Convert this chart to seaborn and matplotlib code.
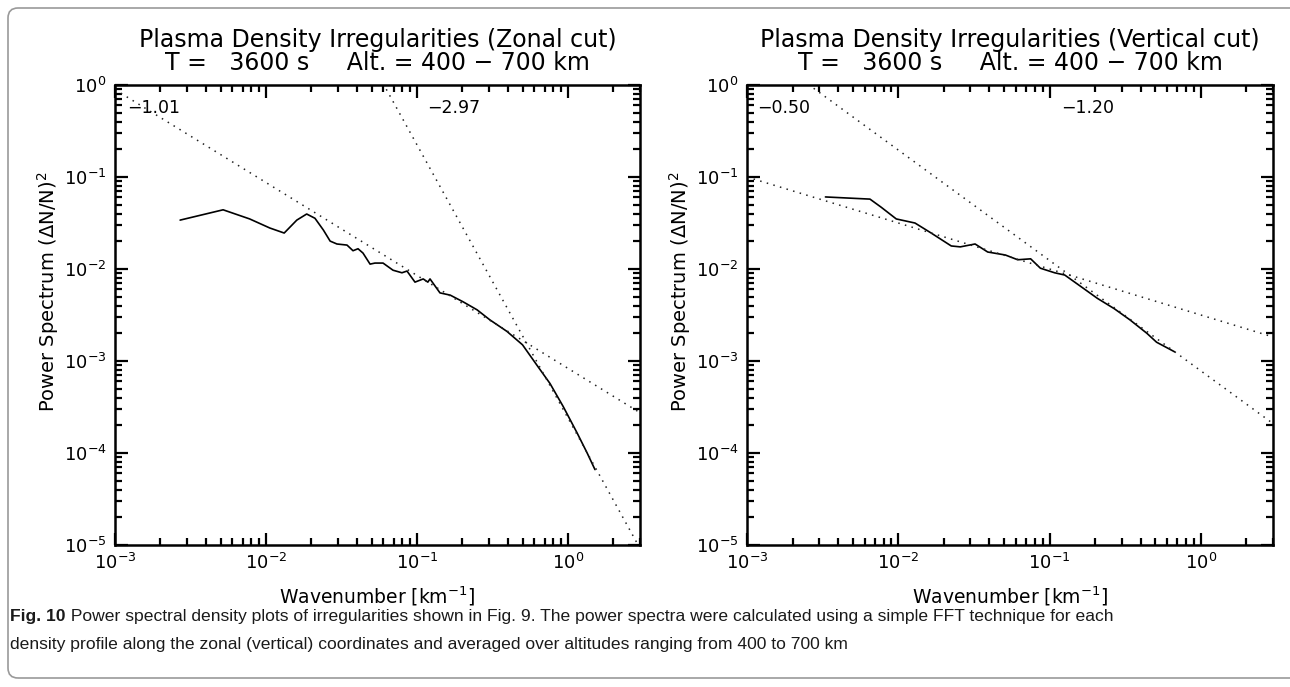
import numpy as np
import pandas as pd
import matplotlib
matplotlib.use("Agg")
import matplotlib.pyplot as plt
import seaborn as sns
from matplotlib import font_manager
from matplotlib.patches import FancyBboxPatch
from matplotlib.ticker import LogLocator, LogFormatterMathtext, NullFormatter

# ---------------- data ----------------
zonal_k = [0.0027, 0.0052, 0.0078, 0.0106, 0.0132, 0.016, 0.0186, 0.0211, 0.024,
           0.0266, 0.0295, 0.0344, 0.0377, 0.0407, 0.0439, 0.0489, 0.0527, 0.0596,
           0.0694, 0.0795, 0.0859, 0.097, 0.110, 0.118, 0.122, 0.142, 0.166, 0.202,
           0.25, 0.304, 0.394, 0.50, 0.62, 0.76, 0.93, 1.15, 1.34, 1.51]
zonal_p = [0.034, 0.044, 0.035, 0.0279, 0.0246, 0.034, 0.0396, 0.0356, 0.0265,
           0.0201, 0.0187, 0.0182, 0.0158, 0.0166, 0.0149, 0.0113, 0.0116, 0.0116,
           0.0097, 0.0091, 0.0095, 0.0072, 0.0078, 0.0072, 0.0078, 0.0055, 0.0052, 0.0044,
           0.0036, 0.0028, 0.0021, 0.0015, 0.00091, 0.00057, 0.00032, 0.000165, 0.0001, 0.000066]

vert_k = [0.0033, 0.0047, 0.0065, 0.0077, 0.0097, 0.0129, 0.0165, 0.0224, 0.0257,
          0.0322, 0.039, 0.051, 0.0616, 0.075, 0.087, 0.108, 0.126, 0.16, 0.207,
          0.268, 0.34, 0.44, 0.51, 0.67]
vert_p = [0.0607, 0.059, 0.0575, 0.047, 0.035, 0.0316, 0.0246, 0.0178, 0.0174,
          0.0187, 0.0153, 0.0142, 0.0126, 0.0129, 0.0102, 0.0091, 0.0086, 0.0065, 0.0048,
          0.0037, 0.0028, 0.002, 0.0016, 0.00126]

# fitted power laws: slope and log10 of value at k = 1 km^-1
zonal_slopes = [-1.01, -2.97]
zonal_log_amp = [-3.08, -3.62]
vert_slopes = [-0.50, -1.20]
vert_log_amp = [-2.50, -3.107]
fit_k_range = [1e-3, 3.0]

titles = ["Plasma Density Irregularities (Zonal cut)",
          "Plasma Density Irregularities (Vertical cut)"]
subtitle = "T =   3600 s     Alt. = 400 \u2212 700 km"
slope_labels_zonal = ["\u22121.01", "\u22122.97"]
slope_labels_vert = ["\u22120.50", "\u22121.20"]
xlabel = "Wavenumber [km$^{-1}$]"
ylabel = "Power Spectrum (\u0394N/N)$^2$"
caption_bold = "Fig. 10"
caption_line1 = (" Power spectral density plots of irregularities shown in Fig. 9. "
                 "The power spectra were calculated using a simple FFT technique for each")
caption_line2 = ("density profile along the zonal (vertical) coordinates and averaged over "
                 "altitudes ranging from 400 to 700 km")

# ---------------- style ----------------
sns.set_theme(style="ticks")
plt.rcParams["font.family"] = ["DejaVu Sans"]
plt.rcParams["mathtext.default"] = "regular"

W, H = 1290, 687
fig = plt.figure(figsize=(W / 100, H / 100), dpi=100)
fig.patch.set_facecolor("white")

def px_rect(x0, x1, ytop, ybot):
    return [x0 / W, 1 - ybot / H, (x1 - x0) / W, (ybot - ytop) / H]

ax1 = fig.add_axes(px_rect(115, 640, 85, 545))
ax2 = fig.add_axes(px_rect(747, 1273, 85, 545))

def draw_panel(ax, k, p, slopes, log_amp, labels, label_x):
    df = pd.DataFrame({"k": k, "p": p})
    sns.lineplot(data=df, x="k", y="p", ax=ax, color="black", lw=1.2,
                 estimator=None, sort=False)
    for s, la in zip(slopes, log_amp):
        kk = np.array(fit_k_range)
        fit = pd.DataFrame({"k": kk, "p": 10 ** la * kk ** s})
        sns.lineplot(data=fit, x="k", y="p", ax=ax, color="#222222", lw=1.1,
                     linestyle=(0, (1, 3.5)), estimator=None, sort=False)
    ax.set_xscale("log")
    ax.set_yscale("log")
    ax.set_xlim(1e-3, 3.0)
    ax.set_ylim(1e-5, 1.0)
    for sp in ax.spines.values():
        sp.set_linewidth(1.8)
        sp.set_color("black")
    ax.xaxis.set_major_locator(LogLocator(base=10, numticks=10))
    ax.yaxis.set_major_locator(LogLocator(base=10, numticks=10))
    ax.xaxis.set_minor_locator(LogLocator(base=10, subs=np.arange(2, 10), numticks=20))
    ax.yaxis.set_minor_locator(LogLocator(base=10, subs=np.arange(2, 10), numticks=20))
    ax.xaxis.set_major_formatter(LogFormatterMathtext())
    ax.yaxis.set_major_formatter(LogFormatterMathtext())
    ax.xaxis.set_minor_formatter(NullFormatter())
    ax.yaxis.set_minor_formatter(NullFormatter())
    ax.tick_params(which="both", direction="in", top=True, right=True,
                   color="black", width=1.6, labelsize=13, labelcolor="black")
    ax.tick_params(which="major", length=9, pad=6)
    ax.tick_params(which="minor", length=5)
    ax.set_xlabel(xlabel, fontsize=13.5, color="black", labelpad=8)
    ax.set_ylabel(ylabel, fontsize=14, color="black")
    ax.yaxis.set_label_coords(-54 / 525, 0.55)
    for lab, lx in zip(labels, label_x):
        ax.text(lx, 0.95, lab, transform=ax.transAxes, fontsize=12.5,
                ha="left", va="center", color="black")
    ax.grid(False)

draw_panel(ax1, zonal_k, zonal_p, zonal_slopes, zonal_log_amp, slope_labels_zonal, [0.024, 0.594])
draw_panel(ax2, vert_k, vert_p, vert_slopes, vert_log_amp, slope_labels_vert, [0.02, 0.597])

for ax, t in zip([ax1, ax2], titles):
    ax.text(0.5, 1 + 45 / 460, t, transform=ax.transAxes, ha="center", va="center",
            fontsize=17, color="black")
    ax.text(0.5, 1 + 22 / 460, subtitle, transform=ax.transAxes, ha="center", va="center",
            fontsize=17, color="black")

# caption
names = {f.name for f in font_manager.fontManager.ttflist}
cap_font = "Liberation Sans" if "Liberation Sans" in names else "DejaVu Sans"
cap_size = 12.6 if cap_font == "Liberation Sans" else 11.5
fig.canvas.draw()
r = fig.canvas.get_renderer()
tb = fig.text(10 / W, 1 - 617 / H, caption_bold, fontsize=cap_size, family=cap_font,
              weight="bold", color="#1a1a1a", ha="left", va="center")
bb = tb.get_window_extent(renderer=r)
fig.text(bb.x1 / W, 1 - 617 / H, caption_line1, fontsize=cap_size, family=cap_font,
         color="#1a1a1a", ha="left", va="center")
fig.text(10 / W, 1 - 645 / H, caption_line2, fontsize=cap_size, family=cap_font,
         color="#1a1a1a", ha="left", va="center")

# rounded frame (right side runs off the picture, as in the reference)
frame = FancyBboxPatch((8, 9), W + 10, H - 17, boxstyle="round,pad=0,rounding_size=10",
                       transform=None, fill=False, edgecolor="#9a9a9a", lw=1.2)
fig.patches.append(frame)

fig.savefig("out.png", dpi=100)
